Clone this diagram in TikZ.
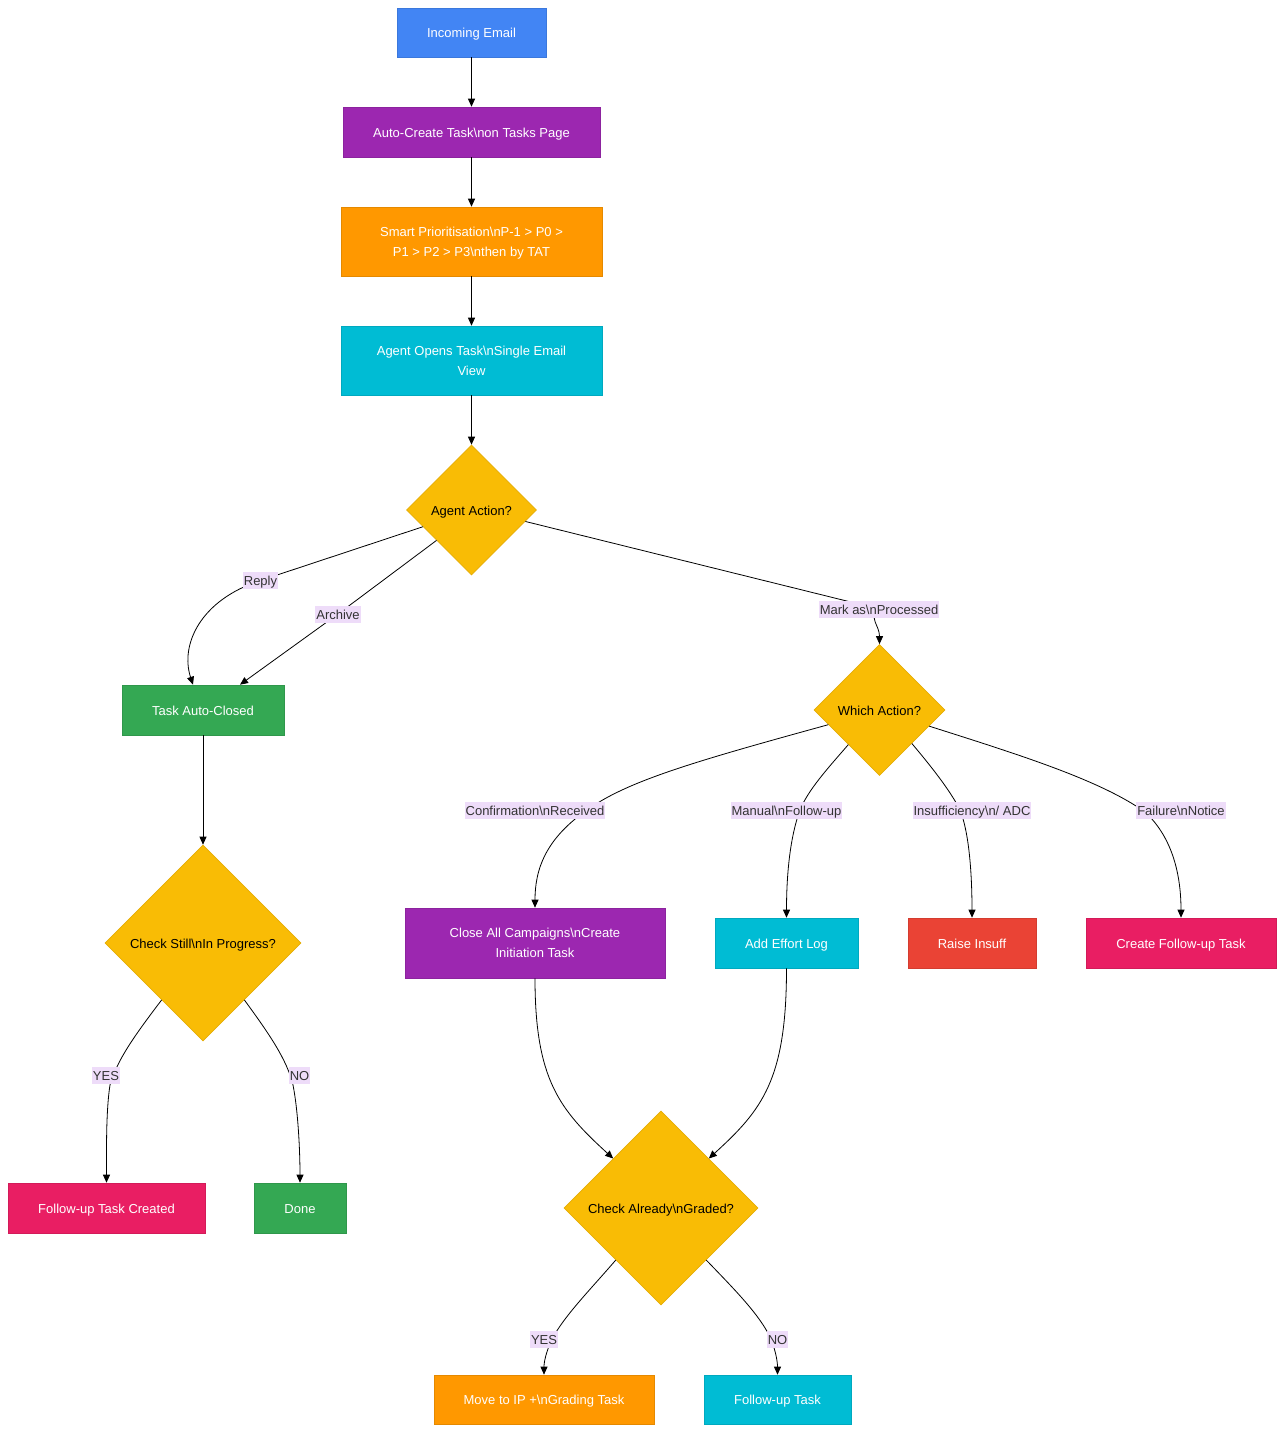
\documentclass[tikz,border=0pt]{standalone}
\usepackage{fontspec}
\setmainfont{Liberation Sans}
\usetikzlibrary{shapes.geometric, arrows.meta}
\definecolor{cblue}{HTML}{4285F4}
\definecolor{cpurple}{HTML}{9C27B0}
\definecolor{corange}{HTML}{FF9800}
\definecolor{ccyan}{HTML}{00BCD4}
\definecolor{cyellow}{HTML}{F9BC05}
\definecolor{cgreen}{HTML}{34A853}
\definecolor{cpink}{HTML}{E91E63}
\definecolor{cred}{HTML}{EA4335}
\definecolor{clabel}{HTML}{EEDCF9}
\definecolor{clabeltext}{HTML}{333333}
\newcommand{\bsn}{\textbackslash{}n}

\begin{document}
\begin{tikzpicture}[x=1pt,y=-1pt]
        \tikzset{proc/.style={rectangle, fill=#1, draw=#1!90!black, line width=0.6pt, text=white, inner sep=0pt, align=center, minimum height=50pt, text height=10pt, text depth=0pt, font=\fontsize{13pt}{20pt}\selectfont}}
        \tikzstyle{two} = [text height={}, text depth=0pt]
        \tikzstyle{cond} = [diamond, fill=cyellow, draw=cyellow!92!black, line width=0.6pt, inner sep=0pt, text=black, align=center, text height=10pt, text depth=0pt, font=\fontsize{13pt}{20pt}\selectfont]
        \tikzstyle{lbl} = [rectangle, fill=clabel, text=clabeltext, inner xsep=1pt, inner ysep=0pt, minimum height=17pt, text height=10pt, text depth=0pt, font=\fontsize{13pt}{16pt}\selectfont]
        \tikzstyle{arrow} = [line width=0.8pt, -{Triangle[length=8pt,width=7pt]}]
        \useasboundingbox (0,0) rectangle (1284,1432);
		\node [proc=cblue, minimum width=149pt, minimum height=49pt] (email) at (471.5, 32.5) {Incoming Email};
		\node [proc=cpurple, minimum width=257pt] (create) at (471.5, 132) {Auto-Create Task\bsn on Tasks Page};
		\node [proc=corange, two, minimum width=261pt, minimum height=69pt] (prio) at (471.5, 241.5) {Smart Prioritisation\bsn P-1 > P0 >\\P1 > P2 > P3\bsn then by TAT};
		\node [proc=ccyan, two, minimum width=261pt, minimum height=69pt] (open) at (471.5, 360.5) {Agent Opens Task\bsn Single Email\\View};
		\node [cond, minimum width=130pt, minimum height=130pt] (act) at (471.5, 510) {Agent Action?};
		\node [proc=cgreen, minimum width=162pt] (closed) at (203, 710) {Task Auto-Closed};
		\node [cond, minimum width=131pt, minimum height=131pt] (which) at (879.5, 710) {Which Action?};
		\node [cond, minimum width=196pt, minimum height=196pt] (still) at (203, 943) {Check Still\bsn In Progress?};
		\node [proc=cpink, minimum width=197pt] (fcreated) at (106.5, 1208) {Follow-up Task Created};
		\node [proc=cgreen, minimum width=92pt] (done) at (300, 1208) {Done};
		\node [proc=cpurple, two, minimum width=260pt, minimum height=70pt] (close) at (535, 943) {Close All Campaigns\bsn Create\\Initiation Task};
		\node [proc=ccyan, minimum width=143pt] (effort) at (786.5, 943) {Add Effort Log};
		\node [proc=cred, minimum width=128pt] (insuff) at (972, 943) {Raise Insuff};
		\node [proc=cpink, minimum width=190pt] (cfollow) at (1181, 943) {Create Follow-up Task};
		\node [cond, minimum width=194pt, minimum height=194pt] (graded) at (661, 1208) {Check Already\bsn Graded?};
		\node [proc=corange, minimum width=220pt, minimum height=49pt] (moveip) at (544, 1399.5) {Move to IP +\bsn Grading Task};
		\node [proc=ccyan, minimum width=147pt, minimum height=49pt] (ftask) at (777.5, 1399.5) {Follow-up Task};
		\draw[arrow] (email) to (create);
		\draw[arrow] (create) to (prio);
		\draw[arrow] (prio) to (open);
		\draw[arrow] (open) to (act);
		\draw[arrow] (act.-161) -- (260.5, 580.5) .. controls (200, 600) and (180, 645) .. ([xshift=-10pt]closed.north);
		\draw[arrow] (act.-139) -- (338, 614) -- ([xshift=37pt]closed.north);
		\draw[arrow] (act.-12.8) -- (879, 609) .. controls (868, 618) and (879.5, 625) .. (which.north);
		\draw[arrow] (closed) to (still);
		\draw[arrow] (which.-164) .. controls (700, 760) and (630, 780) .. (590, 808) .. controls (545, 838) and (535, 870) .. (close.north);
		\draw[arrow] (which.-132) .. controls (828, 768) and (808, 790) .. (800, 810) .. controls (789, 840) and (786.5, 880) .. (effort.north);
		\draw[arrow] (which.-46.7) .. controls (930, 765) and (950, 790) .. (960, 810) .. controls (970, 835) and (972, 880) .. (insuff.north);
		\draw[arrow] (which.-18.4) .. controls (1020, 755) and (1100, 780) .. (1145, 812) .. controls (1170, 835) and (1181, 870) .. (cfollow.north);
		\draw[arrow] (still.-126) .. controls (135, 1035) and (117, 1060) .. (110, 1085) .. controls (106, 1110) and (106.5, 1150) .. (fcreated.north);
		\draw[arrow] (still.-54) .. controls (270, 1035) and (287, 1060) .. (293, 1085) .. controls (298, 1110) and (300, 1150) .. (done.north);
		\draw[arrow] (close.south) .. controls (535, 1080) and (560, 1110) .. (graded.134);
		\draw[arrow] (effort.south) .. controls (786.5, 1080) and (762, 1110) .. (graded.46);
		\draw[arrow] (graded.-131) .. controls (590, 1290) and (565, 1315) .. (552, 1339) .. controls (546, 1352) and (544, 1362) .. (moveip.north);
		\draw[arrow] (graded.-49) .. controls (735, 1290) and (760, 1315) .. (771, 1339) .. controls (776, 1352) and (777.5, 1362) .. (ftask.north);
		\node [lbl] (lreply) at (260.5, 580.5) {Reply};
		\node [lbl] (larchive) at (338, 614) {Archive};
		\node [lbl] (lmark) at (879, 609) {Mark as\bsn Processed};
		\node [lbl] (lconf) at (535, 810) {Confirmation\bsn Received};
		\node [lbl] (lmanual) at (786.5, 810) {Manual\bsn Follow-up};
		\node [lbl] (linsuff) at (972, 810) {Insufficiency\bsn/ ADC};
		\node [lbl] (lfail) at (1181, 810) {Failure\bsn Notice};
		\node [lbl] (lyes1) at (106, 1075) {YES};
		\node [lbl] (lno1) at (299.5, 1075) {NO};
		\node [lbl] (lyes2) at (544, 1339) {YES};
		\node [lbl] (lno2) at (777.5, 1339) {NO};
    \end{tikzpicture}
\end{document}
